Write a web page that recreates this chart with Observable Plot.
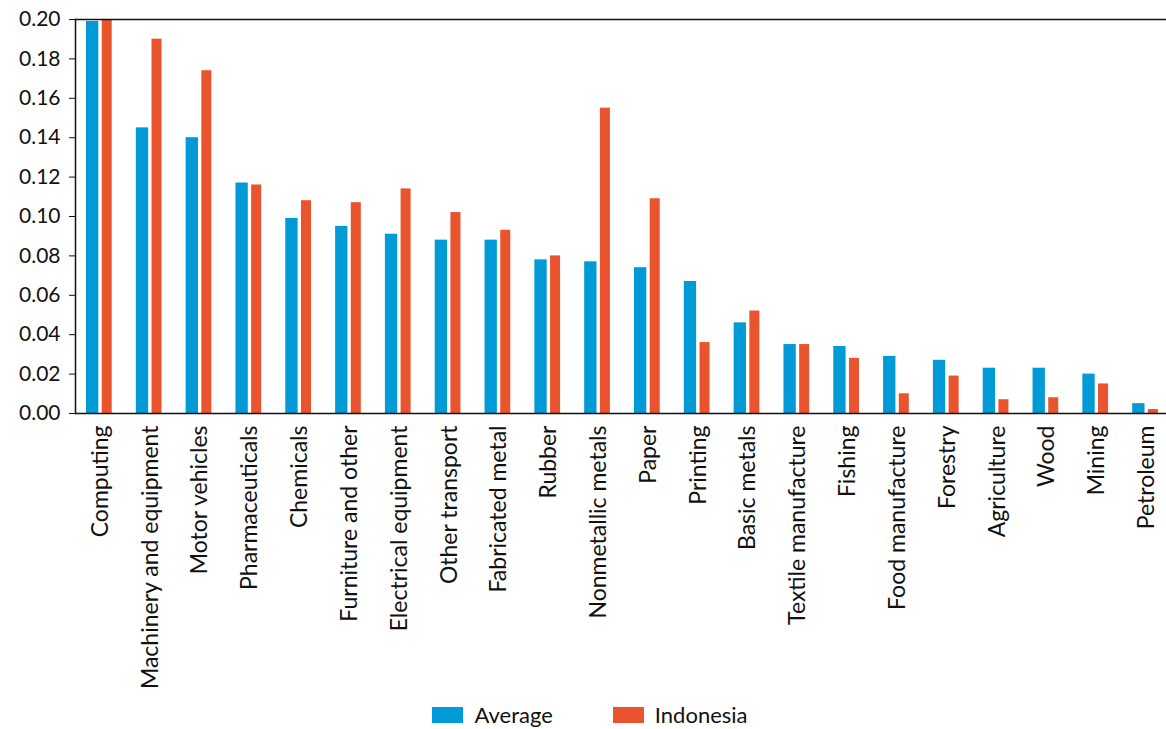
<!DOCTYPE html>
<html><head><meta charset="utf-8">
<script src="https://cdn.jsdelivr.net/npm/d3@7"></script>
<script src="https://cdn.jsdelivr.net/npm/@observablehq/plot@0.6"></script>
<style>
body{margin:0;background:#fff;font-family:Lato,"Open Sans",sans-serif;}
#legend{display:flex;justify-content:center;align-items:center;gap:60px;font-size:22px;color:#111;height:29px;padding-left:14px}
.item{display:flex;align-items:center;gap:11px}
.sw{width:31px;height:16px}
</style></head><body><div id="chart"></div><div id="legend"></div>
<script>
const categories = ["Computing","Machinery and equipment","Motor vehicles","Pharmaceuticals","Chemicals","Furniture and other","Electrical equipment","Other transport","Fabricated metal","Rubber","Nonmetallic metals","Paper","Printing","Basic metals","Textile manufacture","Fishing","Food manufacture","Forestry","Agriculture","Wood","Mining","Petroleum"];
const average   = [0.199,0.145,0.140,0.117,0.099,0.095,0.091,0.088,0.088,0.078,0.077,0.074,0.067,0.046,0.035,0.034,0.029,0.027,0.023,0.023,0.020,0.005];
const indonesia = [0.200,0.190,0.174,0.116,0.108,0.107,0.114,0.102,0.093,0.080,0.155,0.109,0.036,0.052,0.035,0.028,0.010,0.019,0.007,0.008,0.015,0.002];
const seriesNames = ["Average","Indonesia"];
const colors = ["#009ad7","#e9532d"];
const yTicks = [0,0.02,0.04,0.06,0.08,0.10,0.12,0.14,0.16,0.18,0.20];

const rows = [];
categories.forEach((c,i)=>{
  rows.push({category:c, series:seriesNames[0], value:average[i]});
  rows.push({category:c, series:seriesNames[1], value:indonesia[i]});
});

const chart = Plot.plot({
  width:1166, height:700,
  marginLeft:75, marginRight:0, marginTop:19, marginBottom:287,
  style:{fontFamily:"Lato, 'Open Sans', sans-serif", fontSize:"21px", color:"#111", background:"#fff"},
  x:{type:"band", domain:categories, padding:0, round:false, range:[75,1171], label:null},
  y:{domain:[0,0.2], label:null},
  color:{domain:seriesNames, range:colors},
  marks:[
    Plot.barY(rows.filter(d=>d.series===seriesNames[0]), {x:"category", y:"value", fill:"series", insetLeft:11, insetRight:26.5}),
    Plot.barY(rows.filter(d=>d.series===seriesNames[1]), {x:"category", y:"value", fill:"series", insetLeft:26.7, insetRight:13.1}),
    Plot.ruleY([0.2], {stroke:"#111", strokeWidth:1.5}),
    Plot.ruleY([0], {stroke:"#111", strokeWidth:1.5}),
    Plot.frame({anchor:"left", stroke:"#111", strokeWidth:1.5}),
    Plot.axisY({ticks:yTicks, tickFormat:d3.format(".2f"), tickSize:6, tickPadding:9, label:null, stroke:"#111"}),
    Plot.axisX({tickRotate:-90, tickSize:0, tickPadding:12, label:null, fontSize:23})
  ]
});
document.getElementById("chart").appendChild(chart);

const legend = document.getElementById("legend");
seriesNames.forEach((s,i)=>{
  const it = document.createElement("div"); it.className="item";
  const sw = document.createElement("div"); sw.className="sw"; sw.style.background=colors[i];
  const t = document.createElement("span"); t.textContent=s;
  it.appendChild(sw); it.appendChild(t); legend.appendChild(it);
});
</script>
</body></html>
